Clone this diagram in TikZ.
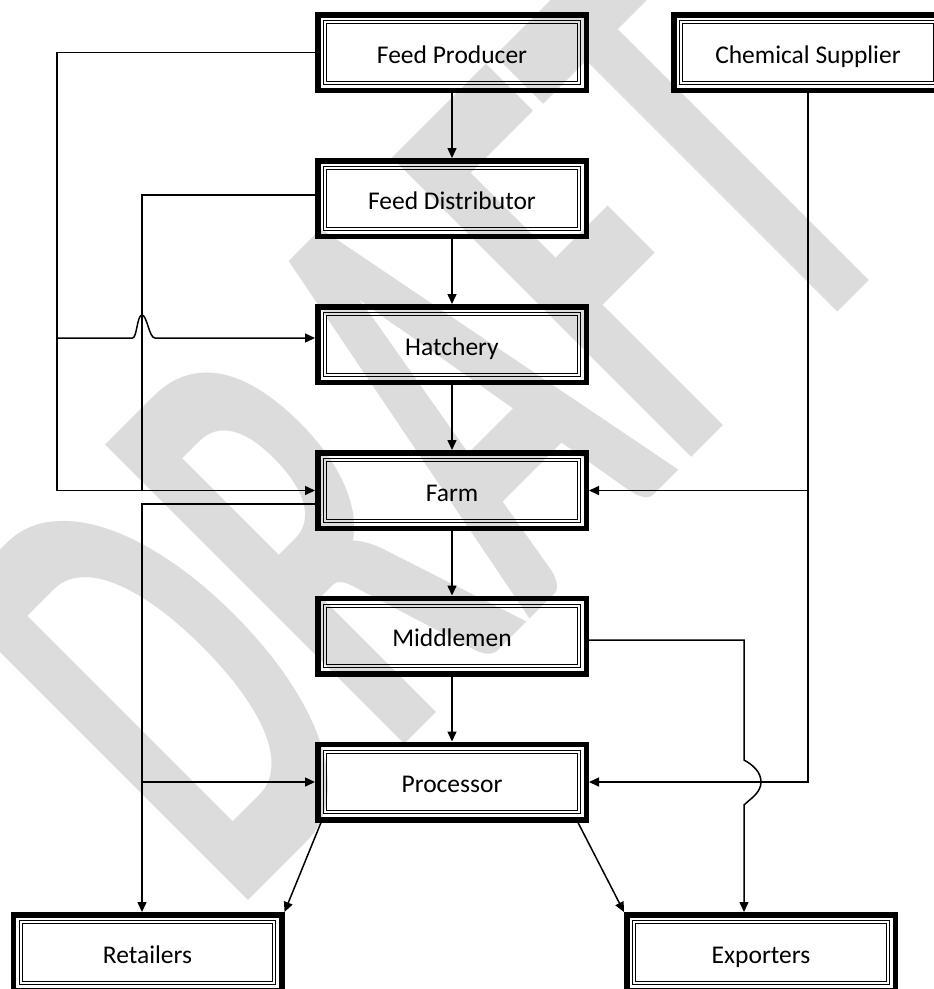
\documentclass[tikz,border=0pt]{standalone}
\usepackage{fontspec}
\setmainfont{Carlito}
\usetikzlibrary{arrows.meta}
\definecolor{wmgray}{RGB}{220,220,220}
\begin{document}
\begin{tikzpicture}[x=1pt,y=-1pt,
  flowbox/.style={rectangle,draw=black,line width=5.5pt,outer sep=2.75pt,
    minimum width=268.5pt,minimum height=75.5pt,inner sep=0pt,
    text height=24pt,text depth=3pt,
    font=\fontsize{25.5}{30}\selectfont},
  rim/.style={draw=black,line width=1pt},
  ln/.style={draw=black,line width=1.5pt},
  arr/.style={ln,-{Triangle[length=10pt,width=9pt]}}]
\useasboundingbox (0,0) rectangle (934,989);
\clip (0,0) rectangle (934,989);
\fill[white] (0,0) rectangle (934,989);

% watermark
\node[rotate=45,text=wmgray,inner sep=0pt] (wm) at (425,425)
  {\scalebox{1}[1.87]{\fontsize{349}{349}\selectfont\bfseries DRAFT}};

% bend coordinates
\coordinate (xA) at (57,0);
\coordinate (xB) at (142,0);
\coordinate (xC) at (744,0);
\coordinate (hj) at (142,338);

% boxes
\node[flowbox] (fp)   at (452,52.5)  {Feed Producer};
\node[flowbox] (cs)   at (808,52.5)  {Chemical Supplier};
\node[flowbox] (fd)   at (452,198.5) {Feed Distributor};
\node[flowbox] (hat)  at (452,344.5) {Hatchery};
\node[flowbox] (farm) at (452,490.5) {Farm};
\node[flowbox] (mid)  at (452,636)   {Middlemen};
\node[flowbox] (proc) at (452,782)   {Processor};
\node[flowbox] (ret)  at (147.5,952.5) {Retailers};
\node[flowbox] (exp)  at (761,952.5) {Exporters};

% inner double rims
\foreach \n in {fp,cs,fd,hat,farm,mid,proc,ret,exp}{
  \draw[rim] ([xshift=8.8pt,yshift=-8.8pt]\n.north west) rectangle ([xshift=-8.8pt,yshift=8.8pt]\n.south east);
  \draw[rim] ([xshift=11.6pt,yshift=-11.6pt]\n.north west) rectangle ([xshift=-11.6pt,yshift=11.6pt]\n.south east);
}

% main chain
\draw[arr] (fp.south) -- (fd.north);
\draw[arr] (fd.south) -- (hat.north);
\draw[arr] (hat.south) -- (farm.north);
\draw[arr] (farm.south) -- (mid.north);
\draw[arr] (mid.south) -- (proc.north);

% feed producer to farm and hatchery
\draw[arr] (fp.west) -| (xA |- farm.west) -- (farm.west);
\draw[arr] (xA |- hj) -- ([xshift=-9.5pt]hj)
  .. controls ([xshift=-5pt]hj) and ([xshift=-5pt,yshift=23pt]hj) .. ([yshift=23pt]hj)
  .. controls ([xshift=5pt,yshift=23pt]hj) and ([xshift=7pt]hj) .. ([xshift=13pt]hj)
  -- (hat.west |- hj);

% feed distributor joins the farm line
\draw[ln] ([yshift=3.5pt]fd.west) -| (xB |- farm.west);

% farm to retailers and processor
\draw[arr] ([yshift=-13.5pt]farm.west) -| (xB |- ret.north);
\draw[arr] (xB |- proc.west) -- (proc.west);

% chemical supplier to farm and processor
\draw[arr] (cs.south) |- (proc.east);
\draw[arr] (cs.south |- farm.east) -- (farm.east);

% middlemen to exporters, hopping the processor line
\coordinate (ej) at (xC |- proc.east);
\draw[arr] ([yshift=-4pt]mid.east) -| ([yshift=22pt]ej)
  .. controls ([xshift=9pt,yshift=17pt]ej) and ([xshift=17pt,yshift=10pt]ej) .. ([xshift=17pt]ej)
  .. controls ([xshift=17pt,yshift=-11pt]ej) and ([xshift=6pt,yshift=-17pt]ej) .. ([yshift=-23pt]ej)
  -- (xC |- exp.north);

% processor to retailers and exporters
\draw[arr] ([xshift=6pt]proc.south west) -- (ret.north east);
\draw[arr] ([xshift=-11pt]proc.south east) -- (exp.north west);
\end{tikzpicture}
\end{document}
